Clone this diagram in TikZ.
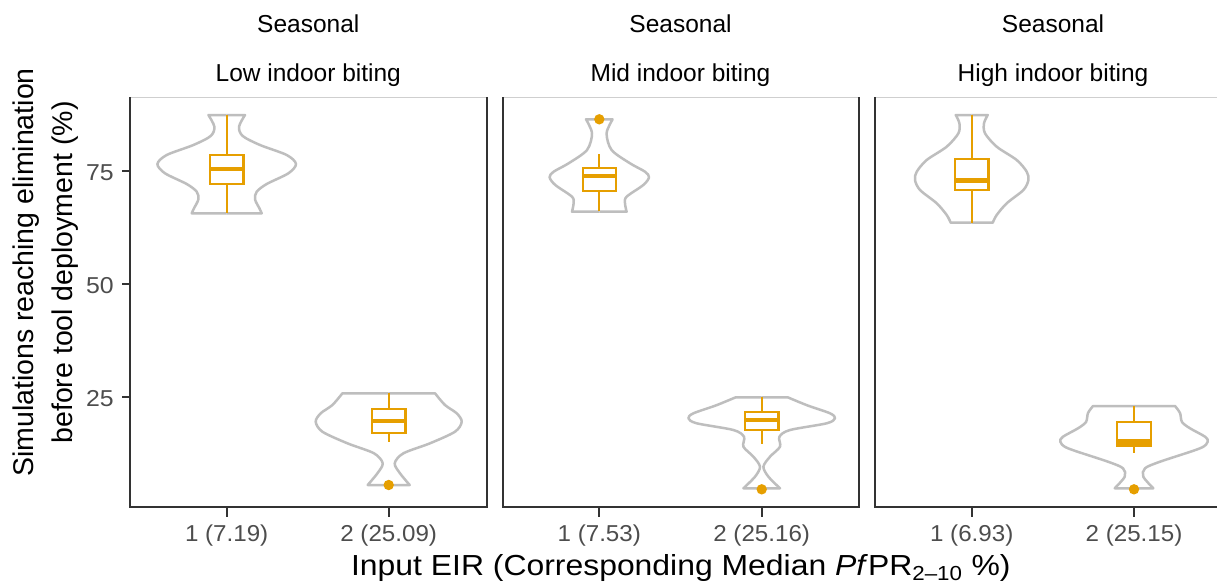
\documentclass[tikz,border=0pt]{standalone}
\usepackage{fontspec}
\setmainfont{Liberation Sans}
\usepackage{graphicx}
\definecolor{vgrey}{HTML}{BEBEBE}
\definecolor{bxorange}{HTML}{E69F00}
\definecolor{axdark}{HTML}{333333}
\definecolor{tickgrey}{HTML}{4D4D4D}
\definecolor{topgrey}{HTML}{CFCFCF}
\newcommand\violinshape[4]{%
  \foreach \s in {1,-1}{%
    \draw[vio, shift={(#1,0)}, xscale=\s] (0,#2) -- plot[smooth] coordinates {#4} -- (0,#3);
  }}
\newcommand\boxplt[6]{% cx, whisker top, q3, median, q1, whisker bottom
  \draw[bx] (#1,#2) -- (#1,#3);
  \draw[bx] (#1,#5) -- (#1,#6);
  \draw[bx] ([xshift=-16.7pt]#1,#3) rectangle ([xshift=16.7pt]#1,#5);
  \draw[med] ([xshift=-16.7pt]#1,#4) -- ([xshift=16.7pt]#1,#4);
}
\begin{document}
\begin{tikzpicture}[x=1pt,y=-1pt,
  vio/.style={draw=vgrey, line width=2.5pt, line join=round},
  bx/.style={draw=bxorange, line width=2.2pt},
  med/.style={draw=bxorange, line width=4.5pt},
  outl/.style={fill=bxorange, draw=none},
  axl/.style={draw=axdark, line width=2pt},
  topl/.style={draw=topgrey, line width=1pt},
  tickl/.style={draw=axdark, line width=2pt},
  strip/.style={anchor=base, font=\fontsize{24.5}{29}\selectfont, inner sep=0pt},
  ticklab/.style={anchor=base, text=tickgrey, font=\fontsize{23}{27}\selectfont, inner sep=0pt},
  ytlab/.style={anchor=base east, text=tickgrey, font=\fontsize{23}{27}\selectfont, inner sep=0pt},
  axtitle/.style={anchor=base, inner sep=0pt}
]
\useasboundingbox (0,0) rectangle (1217,584);
\fill[white] (0,0) rectangle (1217,584);

% panels
\foreach \L/\R in {130/486.5, 502.5/858.5, 875/1231}{
  \draw[topl] (\L,97) -- (\R,97);
  \draw[axl] (\L,97) -- (\L,507) -- (\R,507) -- (\R,97);
}
% y ticks
\foreach \yy in {171.4, 284.0, 396.7}{
  \draw[tickl] (122,\yy) -- (130,\yy);
}
% x ticks
\foreach \xx in {226.7, 388.7, 599.3, 761.7, 971.7, 1134}{
  \draw[tickl] (\xx,507) -- (\xx,516.5);
}

% violins
\violinshape{226.7}{115}{213.3}{(18.3,115) (12.3,126.7) (16,136) (33.3,145) (60,155) (69.3,164) (61.7,173.3) (40,184) (30,191.7) (28.3,199.3) (32.7,208.3) (35,213.3)}
\violinshape{388.7}{393.3}{485}{(46.3,393.3) (56.3,405) (68,413.3) (73,421.7) (66.3,431.7) (41.3,443.3) (14.7,453.3) (6,463.3) (11.3,473.3) (21,485)}
\violinshape{599.3}{119.3}{211.7}{(13.3,119.3) (7.3,133.3) (12.3,150) (30.7,163.3) (45.7,171.7) (49.7,177.3) (44,185) (27.3,196.7) (25.7,203.3) (27.3,211.7)}
\violinshape{761.7}{397.3}{488.3}{(26,397.3) (46,405.5) (68.3,413.3) (73.3,418.3) (65,423.3) (28.3,430) (17.7,436.7) (18.3,446.7) (8.3,456.7) (1.7,466.7) (6.7,476.7) (18.3,488.3)}
\violinshape{971.7}{115}{222.7}{(16,115) (12.3,123.3) (13.3,133.3) (25,146.7) (45,160) (55,171.7) (56.7,180) (51.7,190) (35,203.3) (25,215) (21,222.7)}
\violinshape{1134}{406}{488.3}{(41,406) (46,413) (48,422) (56,428.3) (71,436.7) (73.7,441.7) (66,448.3) (26,461.7) (11,468.3) (9.3,476.7) (19.3,488.3)}

% boxplots
\boxplt{226.7}{115}{155}{169}{184}{213.3}
\boxplt{388.7}{393.3}{409}{421}{433.3}{442.3}
\boxplt{599.3}{154}{168.3}{176}{191}{211}
\boxplt{761.7}{397.3}{411.7}{420}{430}{444.3}
\boxplt{971.7}{115}{159.3}{180.7}{190}{222.7}
\boxplt{1134}{406}{422.3}{441.5}{445.5}{453.3}

% outliers
\fill[outl] (388.7,485) circle (5.2);
\fill[outl] (599.3,119.3) circle (5.2);
\fill[outl] (761.7,489.3) circle (5.2);
\fill[outl] (1134,489.3) circle (5.2);

% strip texts
\node[strip] (s1a) at (308.3,32.3) {Seasonal};
\node[strip] (s1b) at (308.3,81.7) {Low indoor biting};
\node[strip] (s2a) at (680.5,32.3) {Seasonal};
\node[strip] (s2b) at (680.5,81.7) {Mid indoor biting};
\node[strip] (s3a) at (1053,32.3) {Seasonal};
\node[strip] (s3b) at (1053,81.7) {High indoor biting};

% y tick labels
\node[ytlab] (y75) at (114,180.9) {\scalebox{1.08}[1]{75}};
\node[ytlab] (y50) at (114,293.5) {\scalebox{1.08}[1]{50}};
\node[ytlab] (y25) at (114,406.2) {\scalebox{1.08}[1]{25}};

% x tick labels
\node[ticklab] (x1) at (226.7,541.7) {\scalebox{1.05}[1]{1 (7.19)}};
\node[ticklab] (x2) at (388.7,541.7) {\scalebox{1.05}[1]{2 (25.09)}};
\node[ticklab] (x3) at (599.3,541.7) {\scalebox{1.05}[1]{1 (7.53)}};
\node[ticklab] (x4) at (761.7,541.7) {\scalebox{1.05}[1]{2 (25.16)}};
\node[ticklab] (x5) at (971.7,541.7) {\scalebox{1.05}[1]{1 (6.93)}};
\node[ticklab] (x6) at (1134,541.7) {\scalebox{1.05}[1]{2 (25.15)}};

% axis titles
\node[axtitle, font=\fontsize{29}{34}\selectfont] (xt) at (680.8,575.3)
  {\scalebox{1.1}[1]{Input EIR (Corresponding Median \textit{Pf}PR\textsubscript{2–10} \%)}};
\node[axtitle, rotate=90, font=\fontsize{28.5}{34}\selectfont] (yt1) at (33.5,272.5) {Simulations reaching elimination};
\node[axtitle, rotate=90, font=\fontsize{28.5}{34}\selectfont] (yt2) at (72,272.5) {before tool deployment (\%)};
\end{tikzpicture}
\end{document}
